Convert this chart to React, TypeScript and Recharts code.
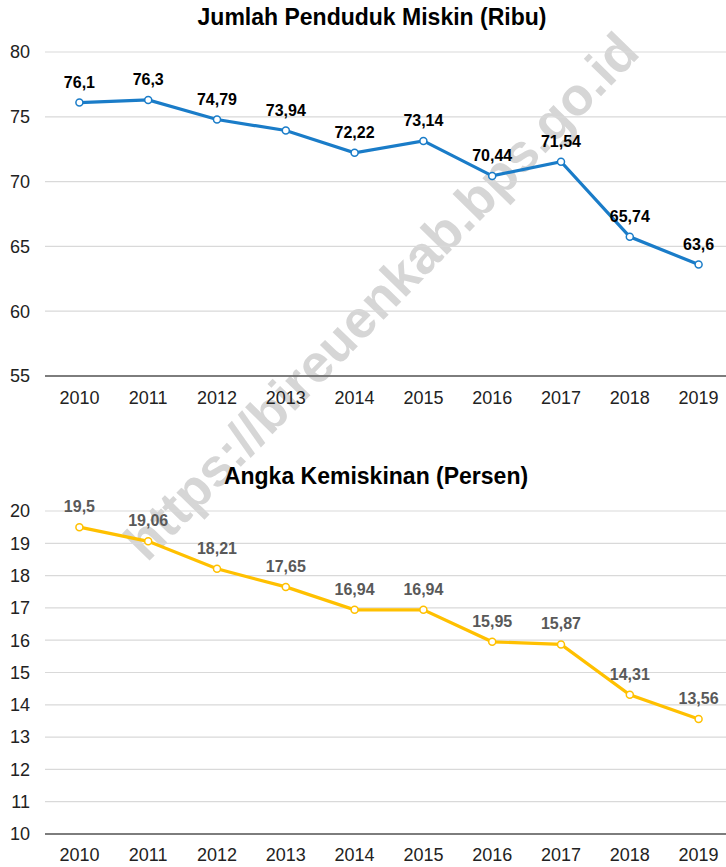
import React from "react";
import { LineChart, Line, XAxis, YAxis, CartesianGrid, LabelList } from "recharts";

const years = ["2010", "2011", "2012", "2013", "2014", "2015", "2016", "2017", "2018", "2019"];
const pendudukMiskin = [76.1, 76.3, 74.79, 73.94, 72.22, 73.14, 70.44, 71.54, 65.74, 63.6];
const angkaKemiskinan = [19.5, 19.06, 18.21, 17.65, 16.94, 16.94, 15.95, 15.87, 14.31, 13.56];
const ticksRibu = [55, 60, 65, 70, 75, 80];
const ticksPersen = [10, 11, 12, 13, 14, 15, 16, 17, 18, 19, 20];
const boundaryTicks = [0, 1, 2, 3, 4, 5, 6, 7, 8, 9, 10];

const FONT = "'Liberation Sans', Arial, sans-serif";

const ribuData = years.map((year, i) => ({ year, value: pendudukMiskin[i] }));
const persenData = years.map((year, i) => ({ year, value: angkaKemiskinan[i] }));

const fmt = (v: any) => String(v).replace(".", ",");

interface PanelProps {
  data: { year: string; value: number }[];
  domain: [number, number];
  ticks: number[];
  color: string;
  labelColor: string;
  height: number;
  marginTop: number;
  xHeight: number;
  labelGap: number;
}

function Panel({ data, domain, ticks, color, labelColor, height, marginTop, xHeight, labelGap }: PanelProps) {
  return (
    <LineChart width={733} height={height} data={data} margin={{ top: marginTop, right: 0, bottom: 0, left: 0 }}>
      <CartesianGrid vertical={false} stroke="#d9d9d9" strokeWidth={1.2} />
      <XAxis
        xAxisId="bounds"
        type="number"
        domain={[0, 10]}
        ticks={boundaryTicks}
        tick={false}
        tickSize={5}
        axisLine={false}
        tickLine={{ stroke: "#595959", strokeWidth: 1.2 }}
        height={0}
      />
      <XAxis
        dataKey="year"
        scale="band"
        height={xHeight}
        tickLine={false}
        tickSize={0}
        tickMargin={labelGap}
        axisLine={{ stroke: "#595959", strokeWidth: 1.5 }}
        tick={{ fill: "#222", fontSize: 18, fontFamily: FONT }}
      />
      <YAxis
        domain={domain}
        ticks={ticks}
        width={45}
        axisLine={false}
        tickLine={false}
        tickSize={0}
        tickMargin={15}
        interval={0}
        tick={{ fill: "#222", fontSize: 18, fontFamily: FONT }}
      />
      <Line
        type="linear"
        dataKey="value"
        stroke={color}
        strokeWidth={3.2}
        dot={{ r: 3.5, fill: "#fff", stroke: color, strokeWidth: 1.5 }}
        isAnimationActive={false}
      >
        <LabelList
          dataKey="value"
          position="top"
          offset={15}
          formatter={fmt}
          style={{ fill: labelColor, fontSize: 16, fontWeight: 700, fontFamily: FONT }}
        />
      </Line>
    </LineChart>
  );
}

export default function App() {
  return (
    <div
      style={{
        position: "absolute",
        left: 0,
        top: 0,
        width: 726,
        height: 867,
        overflow: "hidden",
        background: "#fff",
        fontFamily: FONT,
      }}
    >
      {/* watermark sits behind the charts */}
      <div
        style={{
          position: "absolute",
          left: 381,
          top: 296,
          transform: "translate(-50%, -50%) rotate(-45.8deg)",
          fontSize: 53,
          fontWeight: 700,
          color: "#d6d6d6",
          whiteSpace: "nowrap",
          pointerEvents: "none",
        }}
      >
        https://bireuenkab.bps.go.id
      </div>
      <div
        style={{
          position: "absolute",
          left: 372,
          top: 17,
          transform: "translate(-50%, -50%)",
          fontSize: 23,
          fontWeight: 700,
          color: "#000",
          whiteSpace: "nowrap",
        }}
      >
        Jumlah Penduduk Miskin (Ribu)
      </div>
      <div style={{ position: "absolute", left: 0, top: 0 }}>
        <Panel
          data={ribuData}
          domain={[55, 80]}
          ticks={ticksRibu}
          color="#1a7cc8"
          labelColor="#000"
          height={420}
          marginTop={52}
          xHeight={44}
          labelGap={15}
        />
      </div>
      <div
        style={{
          position: "absolute",
          left: 376,
          top: 476,
          transform: "translate(-50%, -50%)",
          fontSize: 23,
          fontWeight: 700,
          color: "#000",
          whiteSpace: "nowrap",
        }}
      >
        Angka Kemiskinan (Persen)
      </div>
      <div style={{ position: "absolute", left: 0, top: 440 }}>
        <Panel
          data={persenData}
          domain={[10, 20]}
          ticks={ticksPersen}
          color="#ffc000"
          labelColor="#595959"
          height={427}
          marginTop={71}
          xHeight={33}
          labelGap={14}
        />
      </div>
    </div>
  );
}
